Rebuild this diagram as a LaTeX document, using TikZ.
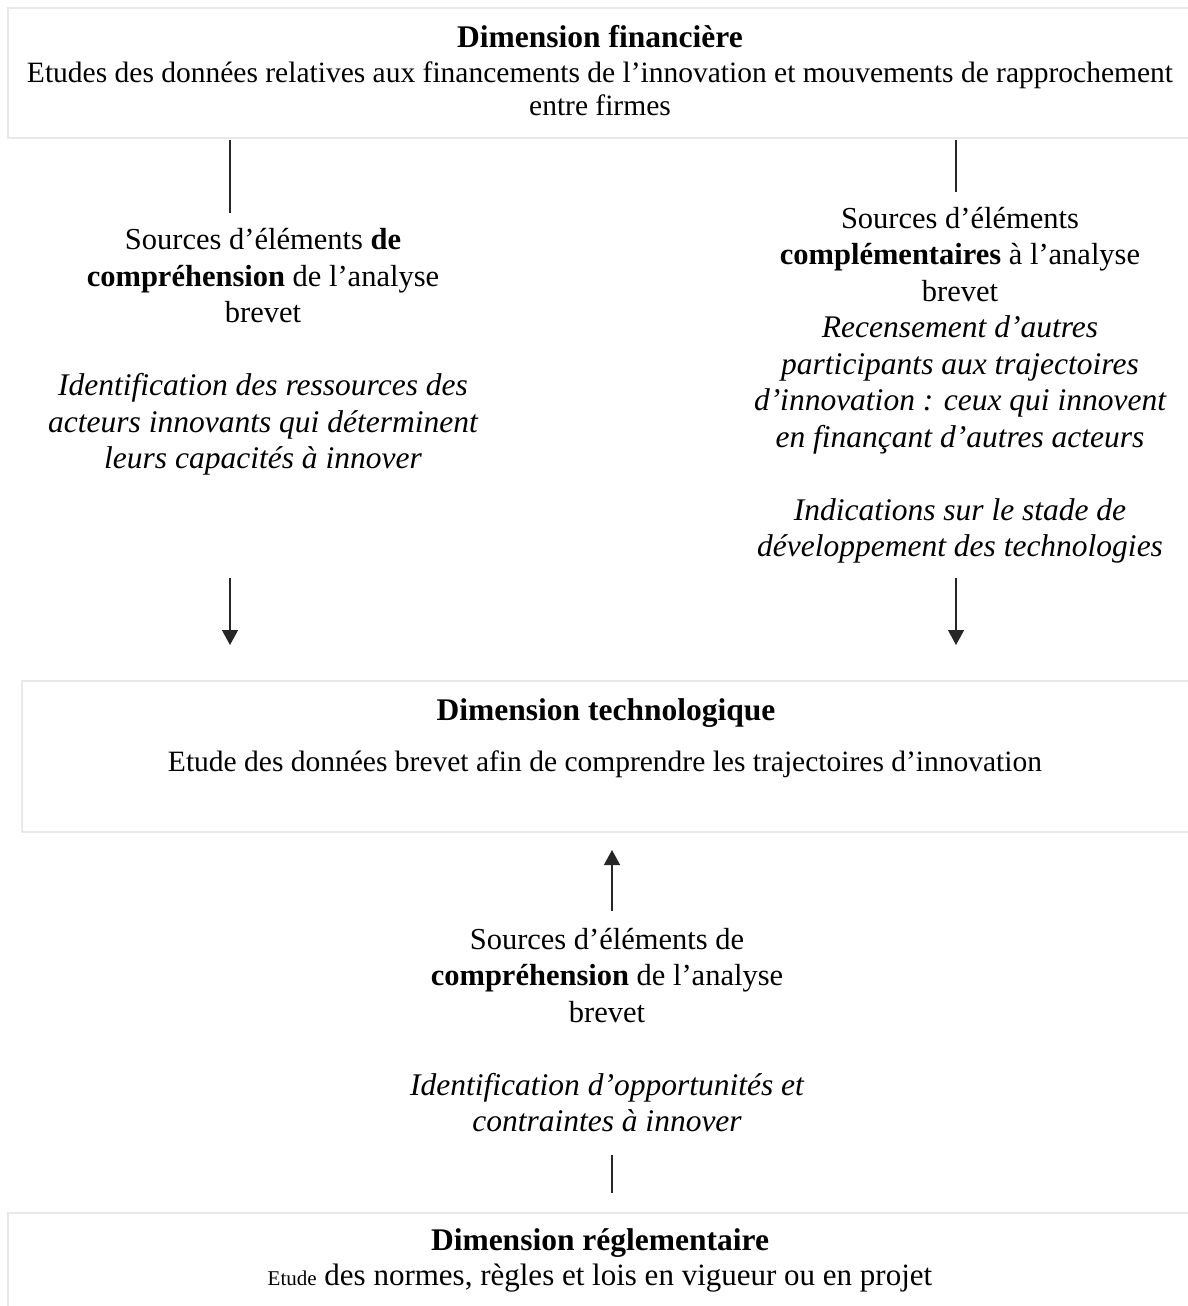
\documentclass[tikz,border=0pt]{standalone}
\usepackage{fontspec}
\setmainfont{Liberation Serif}
\usetikzlibrary{arrows.meta}
\newcommand{\itl}[1]{{\fontsize{31.5}{36.5}\selectfont\itshape #1}}
\tikzset{
  panel/.style={draw=black!9, line width=1.5pt, fill=white, inner sep=0pt},
  txt/.style={align=center, inner sep=0pt, font=\fontsize{30.5}{36.5}\selectfont},
  ttl/.style={align=center, inner sep=0pt, font=\fontsize{31.5}{36.5}\selectfont\bfseries},
  toptxt/.style={align=center, inner sep=0pt, font=\fontsize{29.5}{33}\selectfont},
  link/.style={line width=1.3pt, black!85},
  arr/.style={link, -{Triangle[width=16pt,length=15pt]}}
}
\begin{document}
\begin{tikzpicture}[x=1pt,y=-1pt]
\useasboundingbox (0,0) rectangle (1187,1306);
% panels
\node[panel, minimum width=1187pt, minimum height=130pt] (fin) at (601.5,73) {};
\node[panel, minimum width=1173pt, minimum height=151pt] (tech) at (608.5,756.5) {};
\node[panel, minimum width=1187pt, minimum height=107pt] (regl) at (601.5,1266.5) {};
% top panel texts
\node[ttl] (fint) at (600,37) {Dimension financière};
\node[toptxt] (finb) at (600,89) {Etudes des données relatives\ aux financements de l’innovation et mouvements de rapprochement\\entre firmes};
% middle panel texts
\node[ttl] (techt) at (606,713) {Dimension technologique};
\node[txt, font=\fontsize{29.5}{36.5}\selectfont] (techb) at (605,764) {Etude des données brevet afin de comprendre les trajectoires d’innovation};
% bottom panel texts
\node[ttl] (reglt) at (600,1243) {Dimension réglementaire};
\node[txt, font=\fontsize{31}{36.5}\selectfont] (reglb) at (600,1278) {{\fontsize{21}{24}\selectfont Etude} des normes, règles et lois en vigueur ou en projet};
% side blocks
\node[txt] (lblock) at (263,352) {Sources d’éléments \textbf{de}\\\textbf{compréhension} de l’analyse\\brevet\\[36.5pt]\itl{Identification des ressources\ des}\\\itl{acteurs\ innovants qui déterminent}\\\itl{leurs capacités à innover}};
\node[txt] (rblock) at (960,385) {Sources d’éléments\\\textbf{complémentaires} à l’analyse\\brevet\\\itl{Recensement d’autres}\\\itl{participants aux trajectoires}\\\itl{d’innovation : ceux qui innovent}\\\itl{en finançant d’autres acteurs}\\[36.5pt]\itl{Indications sur le stade de}\\\itl{développement\ des technologies}};
\node[txt] (bblock) at (607,1030) {Sources d’éléments de\\\textbf{compréhension} de l’analyse\\brevet\\[36.5pt]\itl{Identification d’opportunités et}\\\itl{contraintes à innover}};
% connector ends
\coordinate (l1a) at (230,140); \coordinate (l1b) at (230,213);
\coordinate (r1a) at (956,140); \coordinate (r1b) at (956,192);
\coordinate (l2a) at (230,578); \coordinate (l2b) at (230,645);
\coordinate (r2a) at (956,578); \coordinate (r2b) at (956,645);
\coordinate (b1a) at (612,911); \coordinate (b1b) at (612,850);
\coordinate (b2a) at (612,1155); \coordinate (b2b) at (612,1193);
\draw[link] (l1a) -- (l1b);
\draw[link] (r1a) -- (r1b);
\draw[arr] (l2a) -- (l2b);
\draw[arr] (r2a) -- (r2b);
\draw[arr] (b1a) -- (b1b);
\draw[link] (b2b) -- (b2a);
\end{tikzpicture}
\end{document}
